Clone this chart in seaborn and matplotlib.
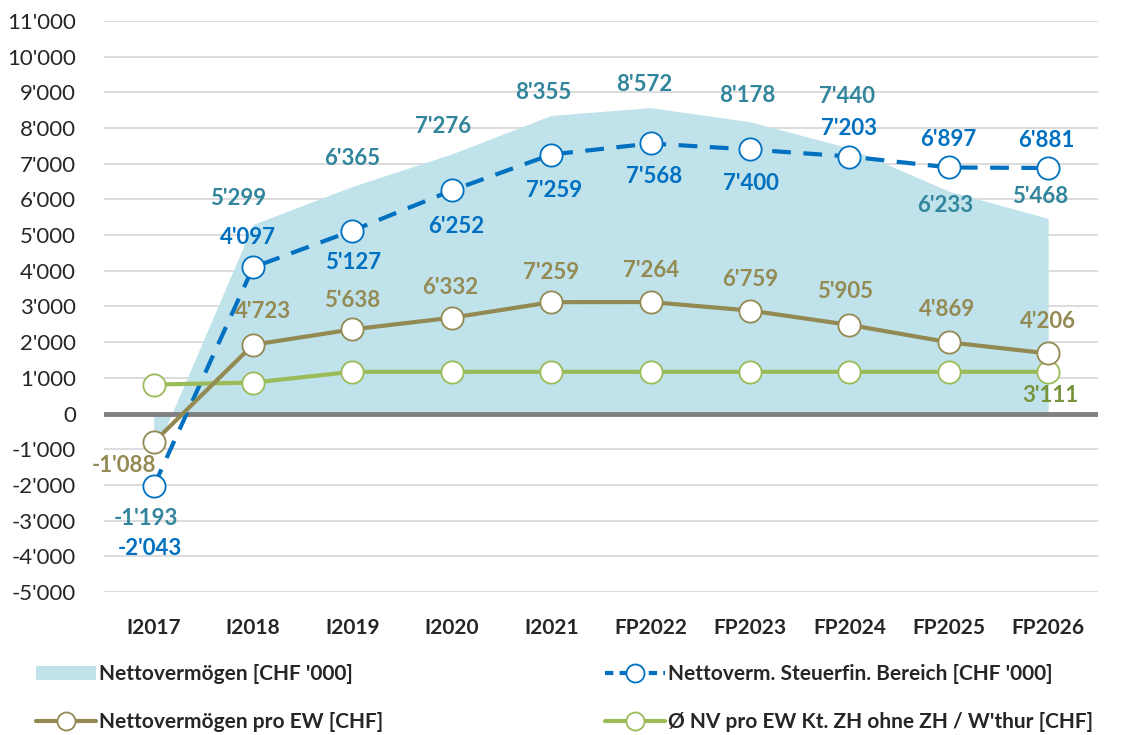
import numpy as np
import pandas as pd
import seaborn as sns
import matplotlib.pyplot as plt
from matplotlib.lines import Line2D
from matplotlib.patches import Patch

categories = ["I2017", "I2018", "I2019", "I2020", "I2021",
              "FP2022", "FP2023", "FP2024", "FP2025", "FP2026"]
nettoverm = [-1193, 5299, 6365, 7276, 8355, 8572, 8178, 7440, 6233, 5468]
steuerfin = [-2043, 4097, 5127, 6252, 7259, 7568, 7400, 7203, 6897, 6881]
pro_ew = [-1088, 4723, 5638, 6332, 7259, 7264, 6759, 5905, 4869, 4206]
kt_zh = [2350, 2470, 3111, 3111, 3111, 3111, 3111, 3111, 3111, 3111]
yticks = list(range(-5000, 11001, 1000))

# label offsets in pixels (dx, dy), dy positive = up
off_area = [(-8, -62), (-15, 26), (0, 28), (-9, 27), (-8, 23),
            (-6, 23), (-3, 26), (-2, 52), (-4, -14), (-8, 22)]
off_steuer = [(-4, -62), (-5, 30), (1, -32), (4, -36), (3, -36),
              (4, -33), (1, -34), (0, 28), (0, 28), (-2, 28)]
off_pro = [(-30, -23), (10, 33), (0, 29), (-2, 30), (0, 30),
           (0, 32), (0, 31), (-4, 33), (-2, 33), (0, 32)]

sns.set_style("white")
plt.rcParams['font.family'] = ['Lato', 'DejaVu Sans']

c_area = "#C0E2EA"
c_area_txt = "#31859C"
c_blue = "#0070C0"
c_brown = "#938953"
c_brown_txt = "#948A54"
c_green = "#9BBB59"
c_green_txt = "#77933C"

fig = plt.figure(figsize=(11.45, 7.35), dpi=100)
ax = fig.add_axes([0.0908, 0.1946, 0.868, 0.7768])
x = np.arange(len(categories))

def fmt(v):
    return f"{v:,.0f}".replace(",", "'")

ax.fill_between(x, 0, nettoverm, color=c_area, linewidth=0, zorder=1)
ax.set_ylim(-5000, 11000)
ax.set_xlim(-0.5, len(categories) - 0.5)
ax.set_yticks(yticks)
ax.set_yticklabels([fmt(v) for v in yticks], fontsize=16)
ax.yaxis.grid(True, color="#D9D9D9", linewidth=1.3, zorder=0)
ax.set_axisbelow(True)
ax.axhline(0, color="#808080", linewidth=3.5, zorder=2)

df = pd.DataFrame({"x": x, "steuer": steuerfin})
sns.lineplot(data=df, x="x", y="steuer", ax=ax, color=c_blue, linewidth=3,
             linestyle=(0, (4.5, 3)), marker="o", markersize=16,
             markerfacecolor="white", markeredgecolor=c_blue,
             markeredgewidth=1.3, zorder=3)

ax.set_xticks(x)
ax.set_xticklabels(categories, fontsize=15, fontweight="bold")
ax.tick_params(axis="x", length=0, pad=19)
ax.tick_params(axis="y", length=0, pad=20)
ax.set_xlabel("")
ax.set_ylabel("")
for s in ax.spines.values():
    s.set_visible(False)

ax2 = ax.twinx()
ax2.set_ylim(-10000, 24000)
df2 = pd.DataFrame({"x": x, "pro": pro_ew, "zh": kt_zh})
sns.lineplot(data=df2, x="x", y="zh", ax=ax2, color=c_green, linewidth=3,
             marker="o", markersize=16, markerfacecolor="white",
             markeredgecolor=c_green, markeredgewidth=1.3, zorder=3)
sns.lineplot(data=df2, x="x", y="pro", ax=ax2, color=c_brown, linewidth=3,
             marker="o", markersize=16, markerfacecolor="white",
             markeredgecolor=c_brown, markeredgewidth=1.3, zorder=4)
ax2.set_yticks([])
ax2.set_ylabel("")
ax2.set_xlabel("")
for s in ax2.spines.values():
    s.set_visible(False)

lab = dict(fontsize=16, fontweight="bold", ha="center", va="center",
           textcoords="offset pixels")
for i in x:
    ax.annotate(fmt(nettoverm[i]), (i, nettoverm[i]), xytext=off_area[i],
                color=c_area_txt, **lab)
    ax.annotate(fmt(steuerfin[i]), (i, steuerfin[i]), xytext=off_steuer[i],
                color=c_blue, **lab)
    ax2.annotate(fmt(pro_ew[i]), (i, pro_ew[i]), xytext=off_pro[i],
                 color=c_brown_txt, **lab)
ax2.annotate(fmt(kt_zh[-1]), (x[-1], kt_zh[-1]), xytext=(2, -24),
             color=c_green_txt, **lab)

mk = dict(marker="o", markersize=13, markerfacecolor="white",
          markeredgewidth=1.3, linewidth=3)
handles = [
    Patch(facecolor=c_area, edgecolor="none", label="Nettovermögen [CHF '000]"),
    Line2D([], [], color=c_brown, markeredgecolor=c_brown,
           label="Nettovermögen pro EW [CHF]", **mk),
    Line2D([], [], color=c_blue, markeredgecolor=c_blue, linestyle=(0, (2, 1.5)),
           label="Nettoverm. Steuerfin. Bereich [CHF '000]", **mk),
    Line2D([], [], color=c_green, markeredgecolor=c_green,
           label="Ø NV pro EW Kt. ZH ohne ZH / W'thur [CHF]", **mk),
]
fig.legend(handles=handles, ncol=2, loc="lower left",
           bbox_to_anchor=(0.015, -0.022), frameon=False,
           prop=dict(size=15, weight="bold"), handlelength=2.9,
           handletextpad=0.15, columnspacing=10.6, labelspacing=1.35)

plt.savefig("out.png", dpi=100)
